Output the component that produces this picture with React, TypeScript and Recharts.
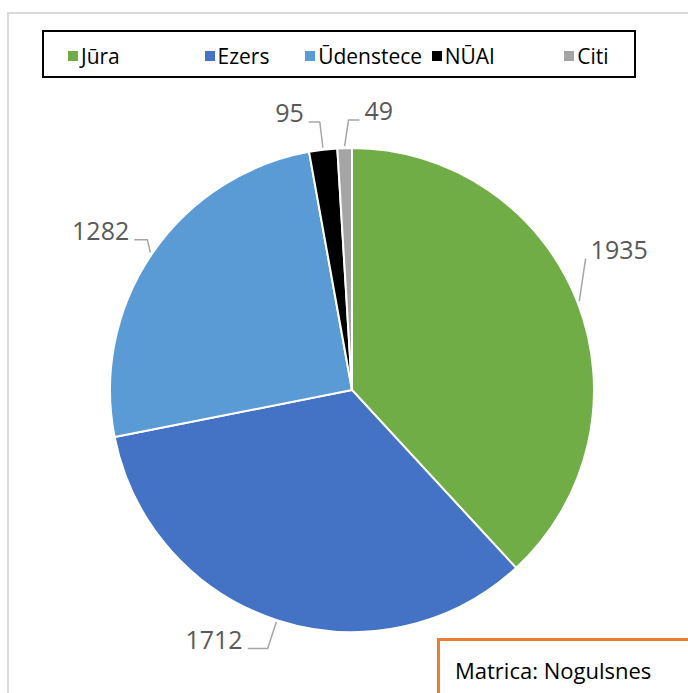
import React from "react";
import { PieChart, Pie, Cell, Legend } from "recharts";

const names = ["Jūra", "Ezers", "Ūdenstece", "NŪAI", "Citi"];
const values = [1935, 1712, 1282, 95, 49];
const colors = ["#70AD47", "#4472C4", "#5B9BD5", "#000000", "#A5A5A5"];

// label leader layout per slice: angle shift (deg), extra radius, side, tail length
const labelLayout = [
  { shift: -8, ext: 26, side: 1, tail: 0 },
  { shift: 0, ext: 30, side: -1, tail: 20 },
  { shift: 2, ext: 12, side: -1, tail: 13 },
  { shift: 0, ext: 28, side: -1, tail: 11 },
  { shift: 1, ext: 28, side: 1, tail: 11 },
];

// legend slot widths
const legendSlots = [137, 101, 127, 133, 70];

const data = names.map((name, i) => ({ name, value: values[i] }));

const renderLabel = (props: any) => {
  const { cx, cy, midAngle, outerRadius, index, value } = props;
  const lay = labelLayout[index];
  const t0 = ((90 - midAngle) * Math.PI) / 180;
  const t1 = ((90 - midAngle + lay.shift) * Math.PI) / 180;
  const sx = cx + (outerRadius + 2) * Math.sin(t0);
  const sy = cy - (outerRadius + 2) * Math.cos(t0);
  const ex = cx + (outerRadius + lay.ext) * Math.sin(t1);
  const ey = cy - (outerRadius + lay.ext) * Math.cos(t1);
  const hx = ex + lay.side * lay.tail;
  const tx = hx + lay.side * 5;
  return (
    <g>
      <polyline
        points={`${sx},${sy} ${ex},${ey} ${hx},${ey}`}
        fill="none"
        stroke="#A6A6A6"
        strokeWidth={1.5}
      />
      <text
        x={tx}
        y={ey - 10}
        textAnchor={lay.side > 0 ? "start" : "end"}
        dominantBaseline="central"
        fill="#595959"
        fontSize={25}
        fontFamily="'Open Sans', sans-serif"
      >
        {value}
      </text>
    </g>
  );
};

const LegendBox = () => (
  <div
    style={{
      width: 594,
      height: 48,
      boxSizing: "border-box",
      border: "2px solid #000",
      display: "flex",
      alignItems: "center",
      paddingLeft: 24,
      paddingTop: 3,
      fontFamily: "'Open Sans', sans-serif",
      fontSize: 21,
      color: "#000",
      background: "#fff",
    }}
  >
    {names.map((n, i) => (
      <div key={n} style={{ width: legendSlots[i], display: "flex", alignItems: "center" }}>
        <span
          style={{
            display: "inline-block",
            width: 10,
            height: 10,
            background: colors[i],
            marginRight: 3,
          }}
        />
        <span>{n}</span>
      </div>
    ))}
  </div>
);

export default function App() {
  return (
    <div
      style={{
        position: "absolute",
        top: 0,
        left: 0,
        width: 688,
        height: 693,
        overflow: "hidden",
        background: "#fff",
      }}
    >
      <div
        style={{
          position: "absolute",
          left: 7,
          top: 12,
          width: 720,
          height: 720,
          border: "2px solid #D9D9D9",
        }}
      />
      <div style={{ position: "absolute", left: 0, top: 0 }}>
        <PieChart width={688} height={693} margin={{ top: 0, right: 0, bottom: 0, left: 0 }}>
          <Legend
            content={() => <LegendBox />}
            wrapperStyle={{ position: "absolute", top: 30, left: 42, width: 594 }}
          />
          <Pie
            data={data}
            dataKey="value"
            nameKey="name"
            cx={352}
            cy={390}
            outerRadius={242}
            startAngle={90}
            endAngle={-270}
            stroke="#fff"
            strokeWidth={2}
            label={renderLabel}
            labelLine={false}
            isAnimationActive={false}
          >
            {data.map((d, i) => (
              <Cell key={d.name} fill={colors[i]} />
            ))}
          </Pie>
        </PieChart>
      </div>
      <div
        style={{
          position: "absolute",
          left: 437,
          top: 638,
          width: 300,
          height: 80,
          border: "3px solid #ED7D31",
          background: "#fff",
          boxSizing: "border-box",
          paddingLeft: 15,
          paddingTop: 14,
          fontFamily: "'Open Sans', sans-serif",
          fontSize: 22,
          lineHeight: "30px",
          color: "#000",
        }}
      >
        Matrica: Nogulsnes
      </div>
    </div>
  );
}
